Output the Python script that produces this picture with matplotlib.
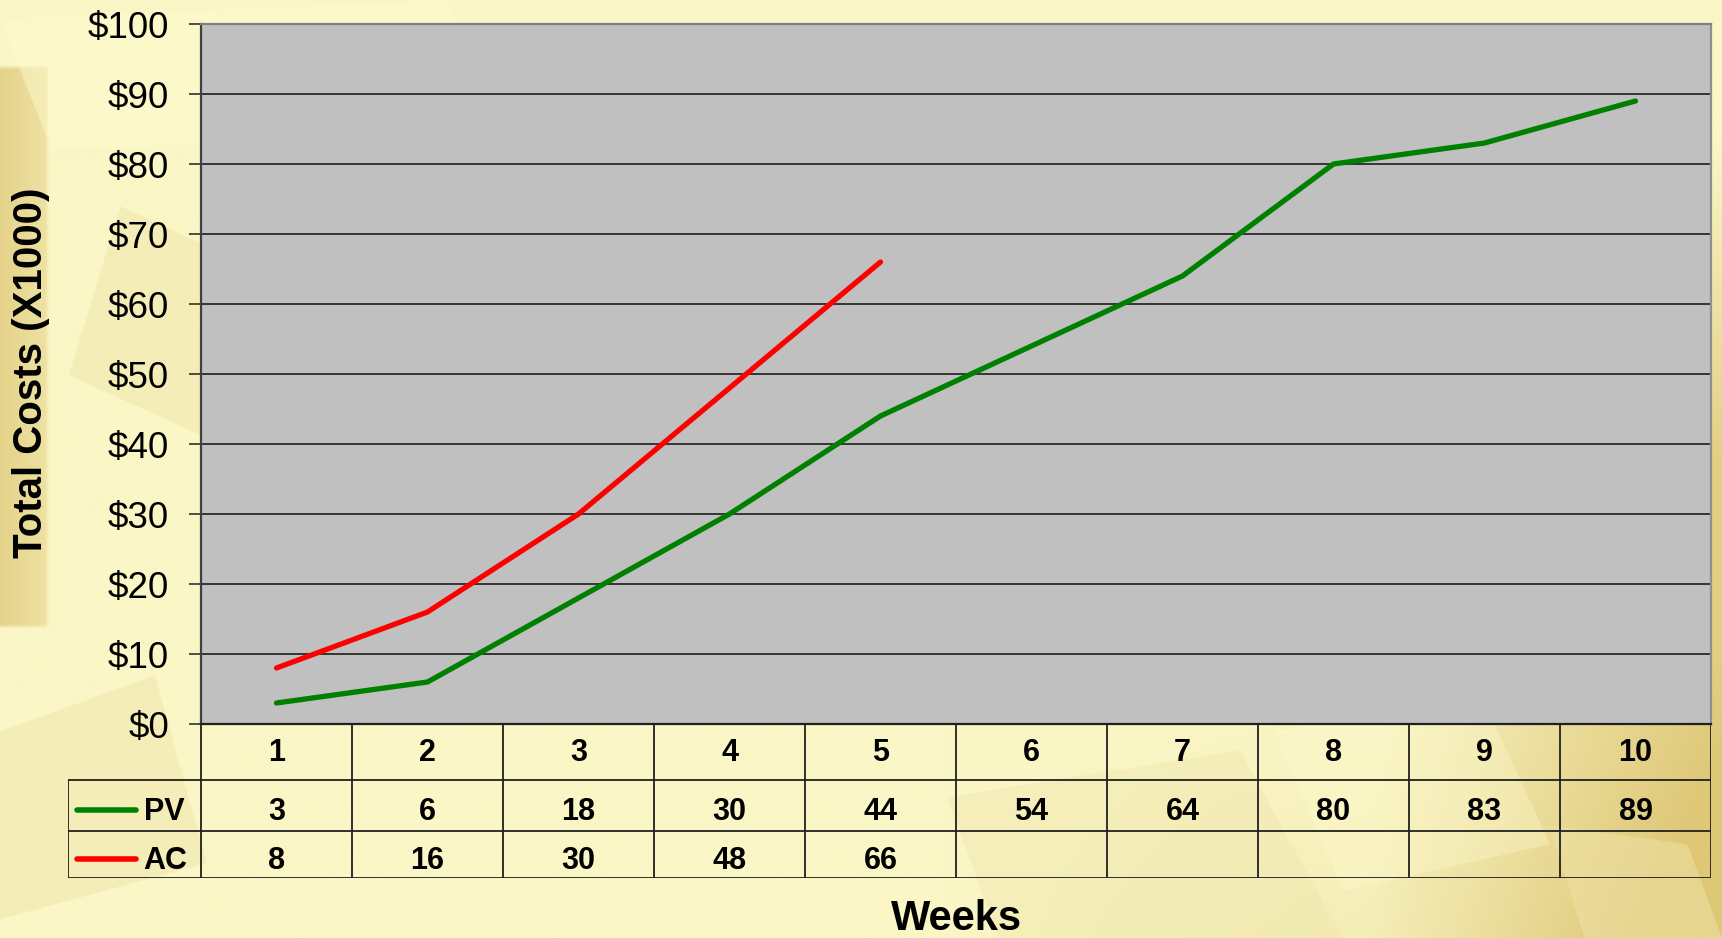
import numpy as np
import matplotlib.pyplot as plt
from matplotlib.patches import Polygon

plt.rcParams['font.family'] = ['Liberation Sans', 'DejaVu Sans']

# Datos
semanas = [1, 2, 3, 4, 5, 6, 7, 8, 9, 10]
pv = [3, 6, 18, 30, 44, 54, 64, 80, 83, 89]
ac = [8, 16, 30, 48, 66]
y_ticks = [0, 10, 20, 30, 40, 50, 60, 70, 80, 90, 100]

W, H = 1722, 938
fig = plt.figure(figsize=(W / 100, H / 100), dpi=100)

# --- Fondo: degradado crema / dorado con recortes translúcidos ---
bg = fig.add_axes([0, 0, 1, 1], zorder=-10)
xx, yy = np.meshgrid(np.linspace(0, 1, 400), np.linspace(0, 1, 220))
crema = np.array([250, 246, 198]) / 255
oro = np.array([222, 199, 118]) / 255
w = np.clip((xx - 0.80) / 0.2, 0, 1) * np.clip((yy - 0.15) / 0.35, 0, 1) * 0.85
w += np.clip((xx - 0.55) / 0.45, 0, 1) * np.clip((yy - 0.7) / 0.3, 0, 1) * 0.35
banda = (xx < 0.026) & (yy > 0.07) & (yy < 0.67)
w = np.where(banda, np.maximum(w, 0.75 - xx * 12), w)
w = np.clip(w, 0, 1)[..., None]
img = crema * (1 - w) + oro * w
bg.imshow(img, extent=[0, 1, 1, 0], aspect='auto', interpolation='bilinear')
recortes = [
    ([0.0, 0.02], [0.26, 0.0], [0.29, 0.14], [0.03, 0.16], '#fffbd0', 0.45),
    ([0.07, 0.22], [0.20, 0.33], [0.16, 0.50], [0.04, 0.40], '#efe3a8', 0.45),
    ([0.28, 0.45], [0.42, 0.35], [0.48, 0.52], [0.34, 0.58], '#fffbd0', 0.35),
    ([0.0, 0.78], [0.09, 0.72], [0.12, 0.92], [0.0, 0.98], '#efe3a8', 0.45),
    ([0.55, 0.85], [0.72, 0.80], [0.78, 1.0], [0.58, 1.0], '#efe3a8', 0.35),
    ([0.74, 0.78], [0.86, 0.74], [0.90, 0.90], [0.78, 0.95], '#fffbd0', 0.35),
    ([0.90, 0.88], [0.98, 0.90], [1.0, 1.0], [0.92, 1.0], '#efe3a8', 0.5),
]
for a, b, c, d, col, al in recortes:
    bg.add_patch(Polygon([a, b, c, d], closed=True, color=col, alpha=al, lw=0))
bg.set_xlim(0, 1)
bg.set_ylim(1, 0)
bg.axis('off')

# --- Gráfico principal ---
left, right, top, bottom = 201, 1711, 24, 724
ax = fig.add_axes([left / W, 1 - bottom / H, (right - left) / W, (bottom - top) / H])
ax.set_facecolor('#c0c0c0')
ax.plot(semanas, pv, color='#008000', lw=3.8, solid_capstyle='round', solid_joinstyle='round', zorder=3)
ax.plot(semanas[:len(ac)], ac, color='#ff0000', lw=3.8, solid_capstyle='round', solid_joinstyle='round', zorder=3)
ax.set_xlim(0.5, 10.5)
ax.set_ylim(0, 100)
ax.set_yticks(y_ticks)
ax.set_yticklabels([f'${v}' for v in y_ticks], fontsize=26.5)
ax.set_xticks([])
ax.tick_params(axis='y', length=9, width=1.2, color='#303030', pad=14)
for v in y_ticks[1:-1]:
    ax.axhline(v, color='#2a2a2a', lw=1.3, zorder=1)
ax.spines['top'].set_color('#808080')
ax.spines['right'].set_color('#909090')
ax.spines['left'].set_color('#404040')
ax.spines['bottom'].set_color('#202020')
for s in ax.spines.values():
    s.set_linewidth(1.6)

fig.text(31 / W, 1 - 373 / H, 'Total Costs (X1000)', rotation=90, fontsize=29,
         fontweight='bold', ha='center', va='center')
fig.text(957 / W, 1 - 919 / H, 'Weeks', fontsize=30, fontweight='bold', ha='center', va='center')

# --- Tabla de datos bajo el gráfico (coordenadas y en píxeles) ---
t_left, t_bottom = 68, 878
filas = [bottom, 780, 831, t_bottom]
unidad = (right - left) / 10
x0 = 0.5 - (left - t_left) / unidad
tab = fig.add_axes([t_left / W, 1 - t_bottom / H, (right - t_left) / W, (t_bottom - bottom) / H])
tab.set_xlim(x0, 10.5)
tab.set_ylim(t_bottom, bottom)
tab.axis('off')

lc = '#202020'
for x in np.arange(0.5, 11.0, 1.0):
    tab.plot([x, x], [filas[0], filas[3]], color=lc, lw=1.3)
tab.plot([x0, x0], [filas[1], filas[3]], color=lc, lw=1.3)
for y in filas[1:]:
    tab.plot([x0, 10.5], [y, y], color=lc, lw=1.3)

fs = 22
y_sem, y_pv, y_ac = 753, 812, 861
for s in semanas:
    tab.text(s, y_sem, str(s), fontsize=fs, fontweight='bold', ha='center', va='center')
for s, v in zip(semanas, pv):
    tab.text(s, y_pv, str(v), fontsize=fs, fontweight='bold', ha='center', va='center')
for s, v in zip(semanas, ac):
    tab.text(s, y_ac, str(v), fontsize=fs, fontweight='bold', ha='center', va='center')

k0, k1 = x0 + 0.06, x0 + 0.45
tab.plot([k0, k1], [y_pv - 2, y_pv - 2], color='#008000', lw=4, solid_capstyle='round')
tab.plot([k0, k1], [y_ac - 2, y_ac - 2], color='#ff0000', lw=4, solid_capstyle='round')
tab.text(x0 + 0.5, y_pv, 'PV', fontsize=fs, fontweight='bold', ha='left', va='center')
tab.text(x0 + 0.5, y_ac, 'AC', fontsize=fs, fontweight='bold', ha='left', va='center')

fig.savefig('out.png', dpi=100)
